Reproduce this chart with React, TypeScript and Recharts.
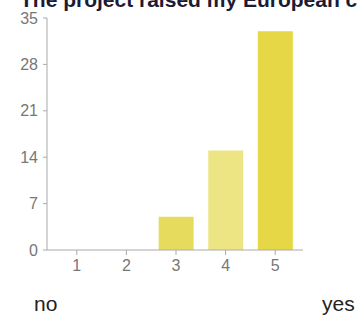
import { Bar, BarChart, Cell, XAxis, YAxis } from "recharts";

const categories = ["1", "2", "3", "4", "5"];
const counts = [0, 0, 5, 15, 33];
const yTicks = [0, 7, 14, 21, 28, 35];
const barColors = ["#e7db5e", "#e7db5e", "#e7db5e", "#ede584", "#e5d745"];
const title = "The project raised my European citizenship awareness";
const scaleLow = "no";
const scaleHigh = "yes";

const data = categories.map((c, i) => ({ answer: c, count: counts[i] }));

const App = () => {
  return (
    <div
      style={{
        position: "absolute",
        left: 0,
        top: 0,
        width: 358,
        height: 318,
        overflow: "hidden",
        background: "#fff",
        fontFamily: "Arial, 'Liberation Sans', sans-serif",
      }}
    >
      <BarChart
        width={358}
        height={318}
        data={data}
        margin={{ top: 18, right: 55, left: 0, bottom: 38 }}
        barCategoryGap="15%"
      >
        <XAxis
          dataKey="answer"
          stroke="#aaaaaa"
          tick={{ fill: "#777777", fontSize: 16 }}
          tickSize={5}
          tickMargin={5}
          padding={{ left: 5, right: 3 }}
        />
        <YAxis
          width={47}
          domain={[0, 35]}
          ticks={yTicks}
          stroke="#aaaaaa"
          tick={{ fill: "#777777", fontSize: 16 }}
          tickSize={4}
          tickMargin={5}
          interval={0}
        />
        <Bar dataKey="count" isAnimationActive={false}>
          {data.map((d, i) => (
            <Cell key={d.answer} fill={barColors[i]} />
          ))}
        </Bar>
      </BarChart>
      {/* title and scale labels, placed by baseline */}
      <svg
        width={358}
        height={318}
        style={{ position: "absolute", left: 0, top: 0, pointerEvents: "none" }}
      >
        <text x={20} y={7} fontSize={21} fontWeight="bold" fill="#1b1b36">
          {title}
        </text>
        <text x={34} y={311} fontSize={21} fill="#222222">
          {scaleLow}
        </text>
        <text x={322} y={311} fontSize={21} fill="#222222">
          {scaleHigh}
        </text>
      </svg>
    </div>
  );
};

export default App;
